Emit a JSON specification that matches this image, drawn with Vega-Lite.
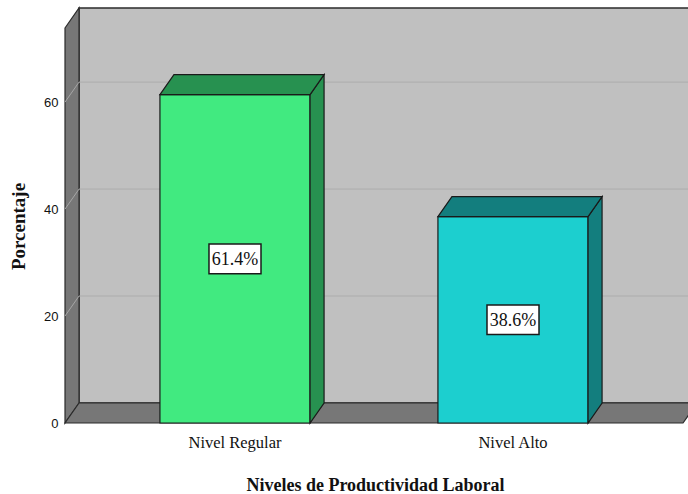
{
  "$schema": "https://vega.github.io/schema/vega-lite/v6.json",
  "width": 623,
  "height": 415,
  "autosize": "none",
  "padding": {"left": 65, "top": 8, "right": 0, "bottom": 71},
  "background": "white",
  "config": {"view": {"stroke": null}},
  "params": [
    {"name": "xmin", "value": -0.6115},
    {"name": "xfin", "value": 1.6115},
    {"name": "xfondo", "value": 1.75},
    {"name": "mitad", "value": 0.27},
    {"name": "dx", "value": 0.0504},
    {"name": "dy", "value": 3.74},
    {"name": "ytope", "value": 73.86}
  ],
  "data": {
    "values": [
      {"nivel": "Nivel Regular", "pct": 61.4},
      {"nivel": "Nivel Alto", "pct": 38.6}
    ]
  },
  "transform": [
    {"window": [{"op": "row_number", "as": "orden"}]},
    {"calculate": "datum.orden - 1", "as": "idx"}
  ],
  "layer": [
    {
      "data": {"values": [{"p": 1}]},
      "transform": [
        {"calculate": "xmin + dx", "as": "x0"},
        {"calculate": "xfondo", "as": "x1"},
        {"calculate": "dy", "as": "y0"},
        {"calculate": "ytope + dy", "as": "y1"}
      ],
      "mark": {"type": "rect", "fill": "#c0c0c0", "stroke": "#2b2b2b", "strokeWidth": 1.5},
      "encoding": {
        "x": {"field": "x0", "type": "quantitative", "scale": {"domain": [-0.6115, 1.6295], "nice": false, "zero": false}},
        "x2": {"field": "x1"},
        "y": {"field": "y0", "type": "quantitative", "scale": {"domain": [0, 77.6], "nice": false, "zero": false}},
        "y2": {"field": "y1"}
      }
    },
    {
      "data": {"values": [{"p": 0}, {"p": 1}]},
      "transform": [
        {"calculate": "xmin + datum.p * dx", "as": "px"},
        {"calculate": "datum.p * dy", "as": "lo"},
        {"calculate": "ytope + datum.p * dy", "as": "up"}
      ],
      "mark": {"type": "area", "orient": "vertical", "fill": "#777777", "stroke": "#2b2b2b", "strokeWidth": 1.2},
      "encoding": {
        "x": {"field": "px", "type": "quantitative", "scale": {"domain": [-0.6115, 1.6295], "nice": false, "zero": false}},
        "y": {"field": "up", "type": "quantitative", "stack": null, "scale": {"domain": [0, 77.6], "nice": false, "zero": false}},
        "y2": {"field": "lo"}
      }
    },
    {
      "data": {"values": [{"v": 20}, {"v": 40}, {"v": 60}]},
      "transform": [
        {"calculate": "xmin", "as": "x0"},
        {"calculate": "xmin + dx", "as": "x1"},
        {"calculate": "datum.v + dy", "as": "y1"}
      ],
      "mark": {"type": "rule", "stroke": "#a6a6a6", "strokeWidth": 1},
      "encoding": {
        "x": {"field": "x0", "type": "quantitative", "scale": {"domain": [-0.6115, 1.6295], "nice": false, "zero": false}},
        "x2": {"field": "x1"},
        "y": {"field": "v", "type": "quantitative", "scale": {"domain": [0, 77.6], "nice": false, "zero": false}},
        "y2": {"field": "y1"}
      }
    },
    {
      "data": {"values": [{"v": 20}, {"v": 40}, {"v": 60}]},
      "transform": [
        {"calculate": "xmin + dx", "as": "x1"},
        {"calculate": "xfondo", "as": "x2"},
        {"calculate": "datum.v + dy", "as": "y1"}
      ],
      "mark": {"type": "rule", "stroke": "#acacac", "strokeWidth": 1},
      "encoding": {
        "x": {"field": "x1", "type": "quantitative", "scale": {"domain": [-0.6115, 1.6295], "nice": false, "zero": false}},
        "x2": {"field": "x2"},
        "y": {"field": "y1", "type": "quantitative", "scale": {"domain": [0, 77.6], "nice": false, "zero": false}}
      }
    },
    {
      "data": {"values": [{"p": 0}, {"p": 1}]},
      "transform": [
        {"calculate": "datum.p * dy", "as": "py"},
        {"calculate": "xmin + datum.p * dx", "as": "xa"},
        {"calculate": "xfin + datum.p * dx", "as": "xb"}
      ],
      "mark": {"type": "area", "orient": "horizontal", "fill": "#777777", "stroke": "#2b2b2b", "strokeWidth": 1.2},
      "encoding": {
        "y": {"field": "py", "type": "quantitative", "scale": {"domain": [0, 77.6], "nice": false, "zero": false}},
        "x": {"field": "xa", "type": "quantitative", "stack": null, "scale": {"domain": [-0.6115, 1.6295], "nice": false, "zero": false}},
        "x2": {"field": "xb"}
      }
    },
    {
      "transform": [
        {"calculate": "datum.idx - mitad", "as": "x0"},
        {"calculate": "datum.idx + mitad", "as": "x1"}
      ],
      "mark": {"type": "rect", "stroke": "#1a1a1a", "strokeWidth": 1.2},
      "encoding": {
        "x": {
          "field": "x0", "type": "quantitative",
          "scale": {"domain": [-0.6115, 1.6295], "nice": false, "zero": false},
          "axis": {
            "labels": false, "domain": false, "ticks": false, "grid": false,
            "title": "Niveles de Productividad Laboral",
            "titleFont": "Liberation Serif", "titleFontSize": 18, "titleFontWeight": "bold",
            "titleColor": "#111111", "titleX": 310, "titleY": 67, "titleBaseline": "alphabetic"
          }
        },
        "x2": {"field": "x1"},
        "y": {
          "field": "pct", "type": "quantitative",
          "scale": {"domain": [0, 77.6], "nice": false, "zero": false},
          "axis": {
            "values": [0, 20, 40, 60], "domain": false, "ticks": false, "grid": false,
            "labelFont": "Liberation Sans", "labelFontSize": 13, "labelColor": "#111111", "labelPadding": 7,
            "title": "Porcentaje",
            "titleFont": "Liberation Serif", "titleFontSize": 19, "titleFontWeight": "bold",
            "titleColor": "#111111", "titleX": -41, "titleY": 218, "titleBaseline": "alphabetic"
          }
        },
        "y2": {"datum": 0},
        "color": {
          "field": "nivel", "type": "nominal",
          "scale": {"domain": ["Nivel Regular", "Nivel Alto"], "range": ["#41ea80", "#1ccfcf"]},
          "legend": null
        }
      }
    },
    {
      "transform": [
        {"calculate": "[0, 1]", "as": "p"},
        {"flatten": ["p"]},
        {"calculate": "datum.idx + mitad + datum.p * dx", "as": "px"},
        {"calculate": "datum.p * dy", "as": "lo"},
        {"calculate": "datum.pct + datum.p * dy", "as": "up"}
      ],
      "mark": {"type": "area", "orient": "vertical", "stroke": "#1a1a1a", "strokeWidth": 1.2},
      "encoding": {
        "x": {"field": "px", "type": "quantitative", "scale": {"domain": [-0.6115, 1.6295], "nice": false, "zero": false}},
        "y": {"field": "up", "type": "quantitative", "stack": null, "scale": {"domain": [0, 77.6], "nice": false, "zero": false}},
        "y2": {"field": "lo"},
        "fill": {
          "field": "nivel", "type": "nominal",
          "scale": {"domain": ["Nivel Regular", "Nivel Alto"], "range": ["#279150", "#137e7e"]},
          "legend": null
        },
        "detail": {"field": "nivel"}
      }
    },
    {
      "transform": [
        {"calculate": "[0, 0, 1, 1]", "as": "e"},
        {"calculate": "[0, 1, 0, 1]", "as": "p"},
        {"flatten": ["e", "p"]},
        {"calculate": "datum.idx + (datum.e ? mitad : -mitad) + datum.p * dx", "as": "px"},
        {"calculate": "datum.pct + datum.e * datum.p * dy", "as": "lo"},
        {"calculate": "datum.pct + max(datum.e, datum.p) * dy", "as": "up"}
      ],
      "mark": {"type": "area", "orient": "vertical", "stroke": "#1a1a1a", "strokeWidth": 1.2},
      "encoding": {
        "x": {"field": "px", "type": "quantitative", "scale": {"domain": [-0.6115, 1.6295], "nice": false, "zero": false}},
        "y": {"field": "up", "type": "quantitative", "stack": null, "scale": {"domain": [0, 77.6], "nice": false, "zero": false}},
        "y2": {"field": "lo"},
        "fill": {
          "field": "nivel", "type": "nominal",
          "scale": {"domain": ["Nivel Regular", "Nivel Alto"], "range": ["#279150", "#137e7e"]},
          "legend": null
        },
        "detail": {"field": "nivel"}
      }
    },
    {
      "transform": [{"calculate": "datum.pct / 2", "as": "medio"}],
      "mark": {
        "type": "point", "shape": "M-1,-0.57H1V0.57H-1Z", "size": 2704,
        "filled": true, "fill": "white", "stroke": "#1a1a1a", "strokeWidth": 1.5, "opacity": 1
      },
      "encoding": {
        "x": {"field": "idx", "type": "quantitative", "scale": {"domain": [-0.6115, 1.6295], "nice": false, "zero": false}},
        "y": {"field": "medio", "type": "quantitative", "scale": {"domain": [0, 77.6], "nice": false, "zero": false}}
      }
    },
    {
      "transform": [
        {"calculate": "datum.pct / 2", "as": "medio"},
        {"calculate": "format(datum.pct, '.1f') + '%'", "as": "etiqueta"}
      ],
      "mark": {
        "type": "text", "font": "Liberation Serif", "fontSize": 18, "color": "#111111",
        "align": "center", "baseline": "middle", "dy": 1
      },
      "encoding": {
        "x": {"field": "idx", "type": "quantitative", "scale": {"domain": [-0.6115, 1.6295], "nice": false, "zero": false}},
        "y": {"field": "medio", "type": "quantitative", "scale": {"domain": [0, 77.6], "nice": false, "zero": false}},
        "text": {"field": "etiqueta"}
      }
    },
    {
      "mark": {
        "type": "text", "font": "Liberation Serif", "fontSize": 16.5, "color": "#111111",
        "align": "center", "baseline": "top", "dy": 12
      },
      "encoding": {
        "x": {"field": "idx", "type": "quantitative", "scale": {"domain": [-0.6115, 1.6295], "nice": false, "zero": false}},
        "y": {"datum": 0, "type": "quantitative", "scale": {"domain": [0, 77.6], "nice": false, "zero": false}},
        "text": {"field": "nivel"}
      }
    }
  ]
}
